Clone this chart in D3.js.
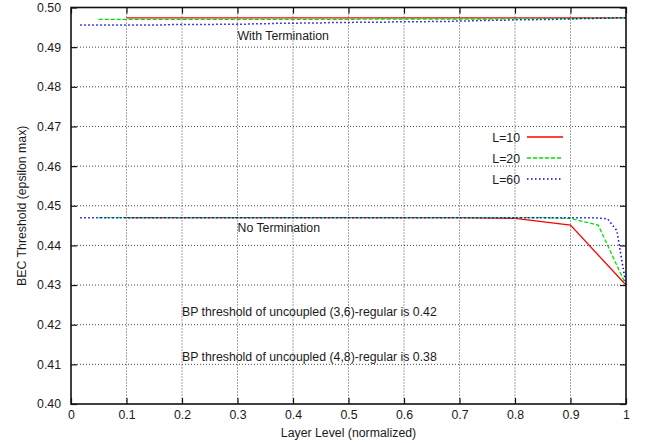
<!doctype html>
<html lang="en">
<head>
<meta charset="utf-8">
<script src="https://d3js.org/d3.v7.min.js"></script>
<style>
  body { margin: 0; background: #fff; }
  svg text { font-family: "Liberation Sans", Arial, Helvetica, sans-serif; font-size: 12.3px; fill: #1a1a1a; }
  .grid line { stroke: #333; stroke-width: 0.9; stroke-dasharray: 1,2; }
</style>
</head>
<body>
<svg id="chart" width="647" height="443"></svg>
<script>
// x ticks and y ticks
const xTicks = [0, 0.1, 0.2, 0.3, 0.4, 0.5, 0.6, 0.7, 0.8, 0.9, 1];
const yTicks = [0.40, 0.41, 0.42, 0.43, 0.44, 0.45, 0.46, 0.47, 0.48, 0.49, 0.50];

// layer positions k/L
const layers10 = d3.range(1, 11).map(k => k / 10);
const layers20 = d3.range(1, 21).map(k => k / 20);
const layers60 = d3.range(1, 61).map(k => k / 60);

// with termination
const withTerm10 = [0.4974, 0.4974, 0.4974, 0.4974, 0.4974, 0.4974, 0.4974, 0.4974, 0.4974, 0.4974];
const withTerm20 = [0.4970, 0.4970, 0.4970, 0.4970, 0.4970, 0.4970, 0.4970, 0.4970, 0.4970, 0.4970,
                    0.4971, 0.4971, 0.4971, 0.4971, 0.4971, 0.4972, 0.4972, 0.4972, 0.4973, 0.4974];
const withTerm60 = [0.4956, 0.4956, 0.4956, 0.4956, 0.4956, 0.4956, 0.4956, 0.4956, 0.4956, 0.4956,
                    0.4957, 0.4957, 0.4957, 0.4957, 0.4957, 0.4958, 0.4958, 0.4958, 0.4958, 0.4959,
                    0.4959, 0.4960, 0.4960, 0.4960, 0.4961, 0.4961, 0.4961, 0.4962, 0.4962, 0.4962,
                    0.4963, 0.4963, 0.4963, 0.4963, 0.4964, 0.4964, 0.4964, 0.4964, 0.4965, 0.4965,
                    0.4965, 0.4966, 0.4966, 0.4967, 0.4967, 0.4968, 0.4968, 0.4969, 0.4969, 0.4969,
                    0.4970, 0.4970, 0.4971, 0.4971, 0.4972, 0.4972, 0.4973, 0.4973, 0.4974, 0.4974];

// no termination
const noTerm10 = [0.4470, 0.4470, 0.4470, 0.4470, 0.4470, 0.4470, 0.4470, 0.4468, 0.4451, 0.4300];
const noTerm20 = [0.4470, 0.4470, 0.4470, 0.4470, 0.4470, 0.4470, 0.4470, 0.4470, 0.4470, 0.4470,
                  0.4470, 0.4470, 0.4470, 0.4470, 0.4470, 0.4470, 0.4470, 0.4468, 0.4451, 0.4300];
const noTerm60 = [0.4470, 0.4470, 0.4470, 0.4470, 0.4470, 0.4470, 0.4470, 0.4470, 0.4470, 0.4470,
                  0.4470, 0.4470, 0.4470, 0.4470, 0.4470, 0.4470, 0.4470, 0.4470, 0.4470, 0.4470,
                  0.4470, 0.4470, 0.4470, 0.4470, 0.4470, 0.4470, 0.4470, 0.4470, 0.4470, 0.4470,
                  0.4470, 0.4470, 0.4470, 0.4470, 0.4470, 0.4470, 0.4470, 0.4470, 0.4470, 0.4470,
                  0.4470, 0.4470, 0.4470, 0.4470, 0.4470, 0.4470, 0.4470, 0.4470, 0.4470, 0.4470,
                  0.4470, 0.4470, 0.4470, 0.4470, 0.4470, 0.4470, 0.4469, 0.4467, 0.4438, 0.4300];

const seriesNames = ["L=10", "L=20", "L=60"];

const notes = [
  { text: "With Termination", x: 0.3, y: 0.4917 },
  { text: "No Termination", x: 0.3, y: 0.4433 },
  { text: "BP threshold of uncoupled (3,6)-regular is 0.42", x: 0.2, y: 0.4222 },
  { text: "BP threshold of uncoupled (4,8)-regular is 0.38", x: 0.2, y: 0.4108 }
];

const styles = [
  { color: "#ff0000", dash: null, width: 1.3 },
  { color: "#00e000", dash: "4,2", width: 1.3 },
  { color: "#0000ff", dash: "1.5,2.5", width: 1.5 }
];

const svg = d3.select("#chart");
const m = { left: 71, top: 7.5, right: 21, bottom: 39 };
const W = 647 - m.left - m.right, H = 443 - m.top - m.bottom;
const g = svg.append("g").attr("transform", `translate(${m.left},${m.top})`);

const x = d3.scaleLinear().domain([0, 1]).range([0, W]);
const y = d3.scaleLinear().domain([0.40, 0.50]).range([H, 0]);

// grid
const grid = g.append("g").attr("class", "grid");
grid.selectAll(".gx").data(xTicks.slice(1, -1)).join("line")
  .attr("x1", d => x(d)).attr("x2", d => x(d)).attr("y1", 0).attr("y2", H);
grid.selectAll(".gy").data(yTicks.slice(1, -1)).join("line")
  .attr("y1", d => y(d)).attr("y2", d => y(d)).attr("x1", 0).attr("x2", W);

// axes with mirrored inward ticks
const tk = 6;
g.append("g").attr("transform", `translate(0,${H})`)
  .call(d3.axisBottom(x).tickValues(xTicks).tickSize(-tk).tickPadding(6).tickFormat(d3.format("")))
  .call(a => a.select(".domain").remove());
g.append("g")
  .call(d3.axisTop(x).tickValues(xTicks).tickSize(-tk).tickFormat(""))
  .call(a => a.select(".domain").remove());
g.append("g")
  .call(d3.axisLeft(y).tickValues(yTicks).tickSize(-tk).tickPadding(10).tickFormat(d3.format(".2f")))
  .call(a => a.select(".domain").remove());
g.append("g").attr("transform", `translate(${W},0)`)
  .call(d3.axisRight(y).tickValues(yTicks).tickSize(-tk).tickFormat(""))
  .call(a => a.select(".domain").remove());
g.selectAll(".tick line").attr("stroke", "#111").attr("stroke-width", 1.2);
g.selectAll(".tick text").attr("font-family", null).attr("font-size", null).attr("fill", "#1a1a1a");

// lines
const line = d3.line().x(d => x(d[0])).y(d => y(d[1]));
const groups = [
  [layers10, withTerm10, noTerm10],
  [layers20, withTerm20, noTerm20],
  [layers60, withTerm60, noTerm60]
];
groups.forEach((grp, i) => {
  [grp[1], grp[2]].forEach(vals => {
    g.append("path")
      .datum(grp[0].map((xv, j) => [xv, vals[j]]))
      .attr("fill", "none")
      .attr("stroke", styles[i].color)
      .attr("stroke-width", styles[i].width)
      .attr("stroke-dasharray", styles[i].dash)
      .attr("d", line);
  });
});

// frame
g.append("rect").attr("width", W).attr("height", H)
  .attr("fill", "none").attr("stroke", "#111").attr("stroke-width", 1.6);

// legend
const leg = g.append("g").attr("transform", `translate(${520 - m.left},${137 - m.top})`);
seriesNames.forEach((name, i) => {
  const row = leg.append("g").attr("transform", `translate(0,${i * 21})`);
  row.append("text").attr("x", 0).attr("y", 4.5).attr("text-anchor", "end").text(name);
  row.append("line").attr("x1", 7).attr("x2", 43).attr("y1", 0).attr("y2", 0)
    .attr("stroke", styles[i].color).attr("stroke-width", styles[i].width)
    .attr("stroke-dasharray", styles[i].dash);
});

// annotations
g.selectAll(".note").data(notes).join("text")
  .attr("x", d => x(d.x)).attr("y", d => y(d.y)).text(d => d.text);

// axis titles
svg.append("text").attr("x", m.left + W / 2).attr("y", 437).attr("text-anchor", "middle")
  .text("Layer Level (normalized)");
svg.append("text").attr("transform", `translate(26,${m.top + H / 2}) rotate(-90)`)
  .attr("text-anchor", "middle").text("BEC Threshold (epsilon max)");
</script>
</body>
</html>
